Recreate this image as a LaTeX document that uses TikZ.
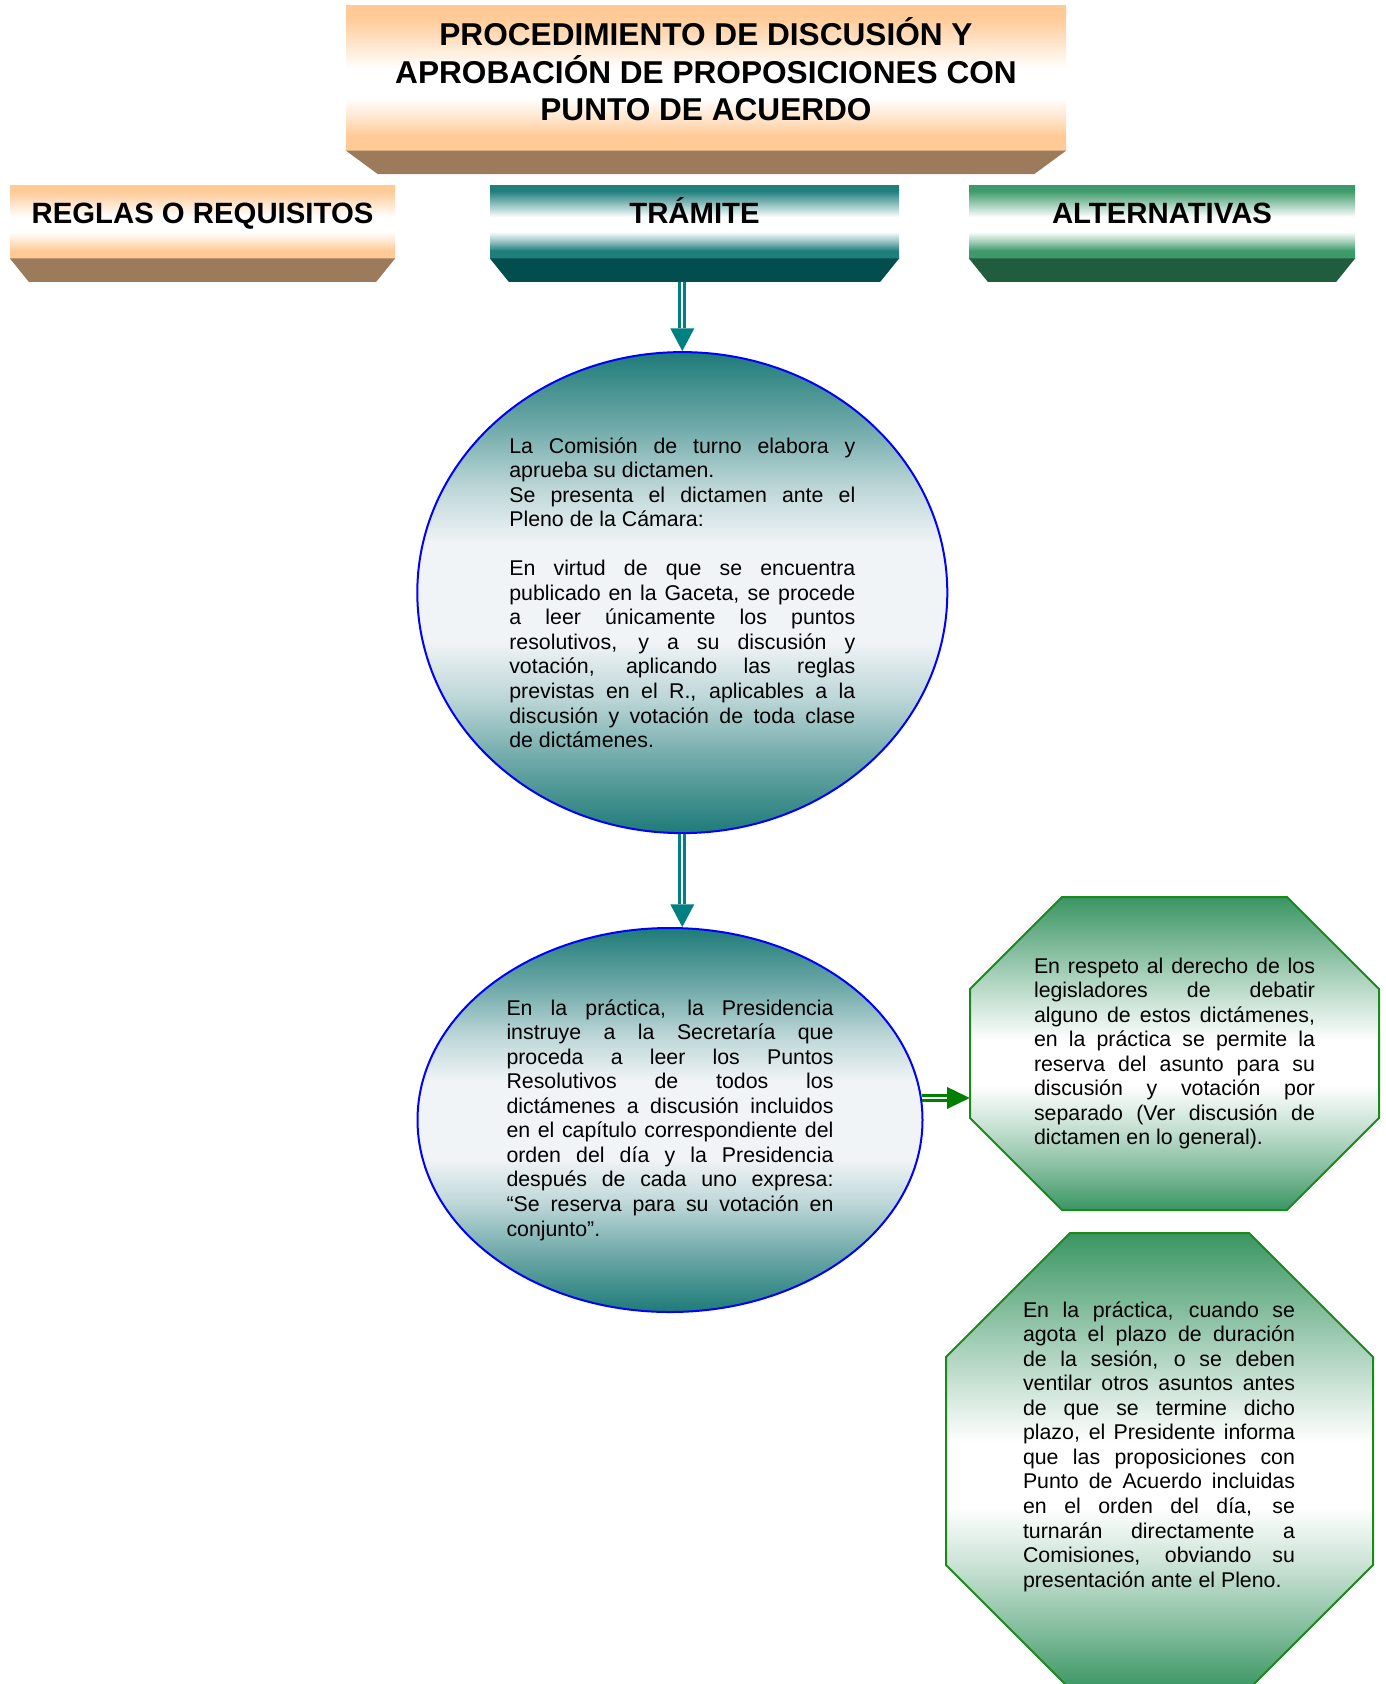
\documentclass[tikz,border=0pt]{standalone}
\usepackage{fontspec}
\setmainfont{Liberation Sans}
\usepackage{tikz}
\usetikzlibrary{shapes.geometric,arrows.meta,calc}

\hyphenpenalty=10000
\hbadness=10000

\definecolor{durazno}{HTML}{FFCA96}
\definecolor{cafe}{HTML}{9B7B5B}
\definecolor{tealclaro}{HTML}{1F7F7D}
\definecolor{tealoscuro}{HTML}{024D4D}
\definecolor{verdeclaro}{HTML}{3D9A6A}
\definecolor{verdeoscuro}{HTML}{205C3E}
\definecolor{tealelipse}{HTML}{1E7B78}
\definecolor{grisclaro}{HTML}{F1F4F7}
\definecolor{verdeocta}{HTML}{3A9563}
\definecolor{bordeverde}{HTML}{1A8A1A}
\definecolor{flechateal}{HTML}{008080}
\definecolor{flechaverde}{HTML}{008000}
% tonos intermedios de las sombras
\colorlet{duraznomedio}{durazno!50!white}
\colorlet{tealmedio}{tealclaro!50!white}
\colorlet{verdemedio}{verdeclaro!50!white}
\colorlet{elipsemedio}{tealelipse!60!grisclaro}
\colorlet{elipsesuave}{tealelipse!25!grisclaro}
\colorlet{octamedio}{verdeocta!60!white}
\colorlet{octasuave}{verdeocta!25!white}

\pgfdeclareverticalshading{sombradurazno}{100bp}{color(0bp)=(durazno); color(30bp)=(durazno); color(36bp)=(duraznomedio); color(43bp)=(white); color(53bp)=(white); color(62bp)=(duraznomedio); color(71bp)=(durazno); color(100bp)=(durazno)}
\pgfdeclareverticalshading{sombrateal}{100bp}{color(0bp)=(tealclaro); color(30bp)=(tealclaro); color(36bp)=(tealmedio); color(43bp)=(white); color(53bp)=(white); color(62bp)=(tealmedio); color(71bp)=(tealclaro); color(100bp)=(tealclaro)}
\pgfdeclareverticalshading{sombraverde}{100bp}{color(0bp)=(verdeclaro); color(30bp)=(verdeclaro); color(36bp)=(verdemedio); color(43bp)=(white); color(53bp)=(white); color(62bp)=(verdemedio); color(71bp)=(verdeclaro); color(100bp)=(verdeclaro)}
\pgfdeclareverticalshading{sombraelipse}{100bp}{color(0bp)=(tealelipse); color(25bp)=(tealelipse); color(33bp)=(elipsemedio); color(39bp)=(elipsesuave); color(45bp)=(grisclaro); color(55bp)=(grisclaro); color(61bp)=(elipsesuave); color(67bp)=(elipsemedio); color(75bp)=(tealelipse); color(100bp)=(tealelipse)}
\pgfdeclareverticalshading{sombraocta}{100bp}{color(0bp)=(verdeocta); color(25bp)=(verdeocta); color(32bp)=(octamedio); color(39bp)=(octasuave); color(45bp)=(white); color(52bp)=(white); color(58bp)=(octasuave); color(66bp)=(octamedio); color(75bp)=(verdeocta); color(100bp)=(verdeocta)}

\begin{document}
\begin{tikzpicture}[x=0.75pt,y=-0.75pt,
  every node/.style={inner sep=0pt},
  titulo/.style={shade, shading=sombradurazno, minimum width=540pt, minimum height=108.75pt,
    align=center, font=\bfseries\fontsize{23.7}{28.1}\selectfont, text depth=13pt},
  encabezado/.style={shade, minimum height=54.75pt, font=\bfseries\fontsize{22}{26}\selectfont,
    text height=15.75pt, text depth=13pt},
  elipse/.style={ellipse, draw=blue, line width=1.5pt, shade, shading=sombraelipse,
    align=justify, font=\fontsize{16}{18.4}\selectfont},
  octagono/.style={draw=bordeverde, line width=1.5pt, shading=sombraocta},
  textoalt/.style={align=justify, font=\fontsize{16}{18.4}\selectfont},
  flechaT/.style={draw=flechateal, double=white, line width=2.4pt, double distance=1.3pt,
    -{Triangle[width=18pt,length=17pt,line width=0pt]}},
  flechaV/.style={draw=flechaverde, double=white, line width=2pt, double distance=1.6pt,
    -{Triangle[width=16.5pt,length=17pt,line width=0pt]}}]
\useasboundingbox (0,0) rectangle (1385,1684);

% titulo
\node[titulo] (titulo) at (706,77.8) {PROCEDIMIENTO DE DISCUSIÓN Y\\APROBACIÓN DE PROPOSICIONES CON\\PUNTO DE ACUERDO};
\fill[cafe] (titulo.south west) -- (titulo.south east) -- ++(-32,23.5) -- ($(titulo.south west)+(32,23.5)$) -- cycle;

% columnas
\node[encabezado, shading=sombradurazno, minimum width=288.75pt] (reglas) at (202.5,221.5) {REGLAS O REQUISITOS};
\fill[cafe] (reglas.south west) -- (reglas.south east) -- ++(-19,23.5) -- ($(reglas.south west)+(19,23.5)$) -- cycle;
\node[encabezado, shading=sombrateal, minimum width=306.75pt] (tramite) at (694.5,221.5) {TRÁMITE};
\fill[tealoscuro] (tramite.south west) -- (tramite.south east) -- ++(-19,23.5) -- ($(tramite.south west)+(19,23.5)$) -- cycle;
\node[encabezado, shading=sombraverde, minimum width=289.5pt] (alternativas) at (1162,221.5) {ALTERNATIVAS};
\fill[verdeoscuro] (alternativas.south west) -- (alternativas.south east) -- ++(-19,23.5) -- ($(alternativas.south west)+(19,23.5)$) -- cycle;

% tramite
\node[elipse, minimum width=397.5pt, minimum height=360.75pt, text width=259.5pt] (elipseA) at (682.3,592.6) {La Comisión de turno elabora y\linebreak aprueba su dictamen.\par
Se presenta el dictamen ante el\linebreak Pleno de la Cámara:\par\vspace{\baselineskip}
En virtud de que se encuentra\linebreak publicado en la Gaceta, se procede\linebreak a leer únicamente los puntos\linebreak resolutivos, y a su discusión y\linebreak votación, aplicando las reglas\linebreak previstas en el R., aplicables a la\linebreak discusión y votación de toda clase\linebreak de dictámenes.};
\node[elipse, minimum width=378.75pt, minimum height=288pt, text width=245.25pt] (elipseB) at (670,1120) {En la práctica, la Presidencia\linebreak instruye a la Secretaría que\linebreak proceda a leer los Puntos\linebreak Resolutivos de todos los\linebreak dictámenes a discusión incluidos\linebreak en el capítulo correspondiente del\linebreak orden del día y la Presidencia\linebreak después de cada uno expresa:\linebreak “Se reserva para su votación en\linebreak conjunto”.};

% alternativas
\shadedraw[octagono] (1062,897) -- (1287,897) -- (1379,989) -- (1379,1118) -- (1287,1210) -- (1062,1210) -- (970,1118) -- (970,989) -- cycle;
\node[textoalt, minimum width=306.75pt, minimum height=234.75pt, text width=210.75pt] (altA) at (1174.5,1053.5) {En respeto al derecho de los\linebreak legisladores de debatir\linebreak alguno de estos dictámenes,\linebreak en la práctica se permite la\linebreak reserva del asunto para su\linebreak discusión y votación por\linebreak separado (Ver discusión de\linebreak dictamen en lo general).};
\shadedraw[octagono] (1070,1233) -- (1249,1233) -- (1373,1357) -- (1373,1565) -- (1249,1689) -- (1070,1689) -- (946,1565) -- (946,1357) -- cycle;
\node[textoalt, text width=204pt] (altB) at (1159,1446.5) {En la práctica, cuando se\linebreak agota el plazo de duración\linebreak de la sesión, o se deben\linebreak ventilar otros asuntos antes\linebreak de que se termine dicho\linebreak plazo, el Presidente informa\linebreak que las proposiciones con\linebreak Punto de Acuerdo incluidas\linebreak en el orden del día, se\linebreak turnarán directamente a\linebreak Comisiones, obviando su\linebreak presentación ante el Pleno.};

% flechas
\draw[flechaT] ($(tramite.south -| elipseA.north)+(0,23.5)$) -- (elipseA.north);
\draw[flechaT] (elipseA.south) -- (elipseA.south |- elipseB.north);
\draw[flechaV] (elipseB.5) -- (elipseB.5 -| altA.west);
\end{tikzpicture}
\end{document}
